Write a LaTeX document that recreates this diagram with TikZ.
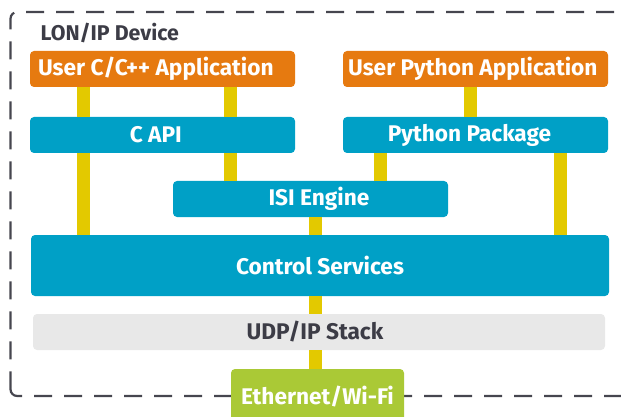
\documentclass[tikz,border=0pt]{standalone}
\usepackage{fontspec}
\setmainfont{Fira Sans}
\definecolor{appOrange}{HTML}{E67A10}
\definecolor{layerBlue}{HTML}{00A0C6}
\definecolor{linkYellow}{HTML}{E3C900}
\definecolor{stackGray}{HTML}{E8E8E8}
\definecolor{netGreen}{HTML}{AAC936}
\definecolor{darkText}{HTML}{3C3C46}
\tikzset{
  box/.style={rectangle, rounded corners=3pt, inner sep=0pt, minimum height=27pt,
    text=white, font=\fontsize{17}{19}\selectfont\bfseries},
  app/.style={box, fill=appOrange},
  layer/.style={box, fill=layerBlue},
  nudge/.style={execute at begin node={\hspace*{#1}}},
  link/.style={draw=linkYellow, line width=9.75pt}
}
\begin{document}
\begin{tikzpicture}[x=0.75pt,y=-0.75pt]
\useasboundingbox (0,0) rectangle (621,417);
\clip (0,0) rectangle (621,417);

% device frame
\draw[darkText!95, line width=1.65pt, dash pattern=on 13.5pt off 9pt, rounded corners=5pt]
  (10.5,396) -- (10.5,12) -- (660,12) -- (660,396) -- cycle;
\node[anchor=west, text=darkText, font=\fontsize{16}{18}\selectfont\bfseries] (dev) at (36,33) {LON/IP Device};

\node[app, minimum width=198.75pt, nudge=-10pt] (cpp) at (162.5,69) {User C/C++ Application};
\node[app, minimum width=198.75pt, nudge=-4pt] (pyapp) at (475.5,69) {User Python Application};

\node[layer, minimum width=198.75pt, nudge=-10pt] (capi) at (162.5,135) {C API};
\node[layer, minimum width=198.75pt, nudge=-9pt] (pypkg) at (475.5,135) {Python Package};

\node[layer, minimum width=206.25pt, nudge=12.75pt] (isi) at (310.5,199) {ISI Engine};

\node[layer, minimum width=433.5pt, minimum height=45.75pt] (ctrl) at (320,265.5) {Control Services};

\node[box, fill=stackGray, text=darkText, minimum width=429pt, nudge=-6pt] (udp) at (319,332) {UDP/IP Stack};

\node[box, fill=netGreen, minimum width=129.75pt, minimum height=42pt] (eth) at (317.5,397) {Ethernet/Wi-Fi};

% links
\draw[link] (83.5,0 |- cpp.south) -- (83.5,0 |- capi.north);
\draw[link] (230,0 |- cpp.south) -- (230,0 |- capi.north);
\draw[link] (470,0 |- pyapp.south) -- (470,0 |- pypkg.north);
\draw[link] (83.5,0 |- capi.south) -- (83.5,0 |- ctrl.north);
\draw[link] (230,0 |- capi.south) -- (230,0 |- isi.north);
\draw[link] (380.5,0 |- pypkg.south) -- (380.5,0 |- isi.north);
\draw[link] (560.5,0 |- pypkg.south) -- (560.5,0 |- ctrl.north);
\draw[link] (315.5,0 |- isi.south) -- (315.5,0 |- ctrl.north);
\draw[link] (315.5,0 |- ctrl.south) -- (315.5,0 |- udp.north);
\draw[link] (315.5,0 |- udp.south) -- (315.5,0 |- eth.north);

\end{tikzpicture}
\end{document}
